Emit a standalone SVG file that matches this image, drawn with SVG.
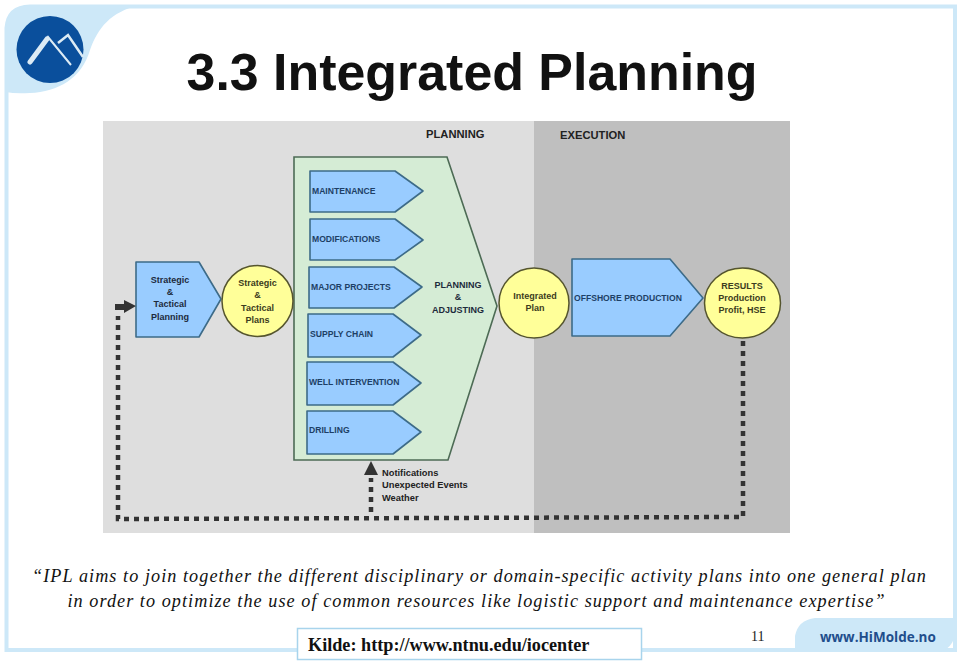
<svg xmlns="http://www.w3.org/2000/svg" width="960" height="665" viewBox="0 0 960 665">
<style>
.ar{fill:#99ccff;stroke:#3d6b88;stroke-width:1.6;stroke-linejoin:round}
.ci{fill:#ffff99;stroke:#55552e;stroke-width:1.5}
.t{font-family:"Liberation Sans",Arial,sans-serif;font-weight:bold;font-size:8.6px;fill:#1d3f66}
.y{font-family:"Liberation Sans",Arial,sans-serif;font-weight:bold;font-size:9px;fill:#3c3c20;text-anchor:middle}
.b{font-family:"Liberation Sans",Arial,sans-serif;font-weight:bold;font-size:9px;fill:#1d2a3c;text-anchor:middle}
.k{font-family:"Liberation Sans",Arial,sans-serif;font-weight:bold;font-size:9.3px;fill:#222}
.h{font-family:"Liberation Sans",Arial,sans-serif;font-weight:bold;font-size:11.2px;fill:#222}
.q{font-family:"Liberation Serif","Times New Roman",serif;font-style:italic;font-size:18.2px;fill:#111;letter-spacing:1.05px;text-anchor:middle}
.dot{fill:none;stroke:#333;stroke-width:4.5;stroke-dasharray:5 5}
</style>
<rect width="960" height="665" fill="#fff"/>
<g id="frame">
<path d="M6.500 60V28Q8 7 30 6.500H955V650H642M297 650H6.500V60" fill="none" stroke="#cde8f8" stroke-width="4"/>
<path d="M6 92V28Q8 6 30 5H140C110 12 98 28 90 50C82 78 58 92 30 93Q15 94 6 92Z" fill="#cde8f8"/>
<path d="M795 652V636Q798 620 815 618H955V636Q950 652 935 652Z" fill="#cde8f8"/>
<text x="820" y="642" font-family="'Open Sans','Liberation Sans',sans-serif" font-weight="bold" font-size="13.500" fill="#1f4e8c">www.HiMolde.no</text>
</g>
<g id="logo">
<circle cx="50" cy="49.500" r="33.500" fill="#0a4f9c"/>
<path d="M30 62L48 37L71 65" fill="none" stroke="#dcebf5" stroke-width="2"/>
<path d="M30 62L47 39" fill="none" stroke="#dcebf5" stroke-width="5" stroke-linecap="round"/>
<path d="M58 43L68 35L83 57" fill="none" stroke="#dcebf5" stroke-width="2.500"/>
</g>
<text id="title" x="472" y="90" text-anchor="middle" font-family="'Liberation Sans',Arial,sans-serif" font-weight="bold" font-size="51.900" fill="#111">3.3 Integrated Planning</text>
<g id="panels">
<rect x="103" y="121" width="431" height="412" fill="#dedede"/>
<rect x="534" y="121" width="256" height="412" fill="#bfbfbf"/>
<text class="h" x="426" y="138">PLANNING</text>
<text class="h" x="560" y="139">EXECUTION</text>
</g>
<g id="adjusting">
<polygon points="294,157 447,157 497,306 448,460 294,460" fill="#d5ecd5" stroke="#4d6b55" stroke-width="1.600"/>
<text class="b" x="458" y="288">PLANNING</text>
<text class="b" x="458" y="300">&amp;</text>
<text class="b" x="458" y="313">ADJUSTING</text>
</g>
<g id="maintenance"><polygon class="ar" points="310,171 395,171 423,191 395,212 310,212"/><text class="t" x="312" y="194">MAINTENANCE</text></g>
<g id="modifications"><polygon class="ar" points="310,219 395,219 423,240 395,260 310,260"/><text class="t" x="312" y="242">MODIFICATIONS</text></g>
<g id="major"><polygon class="ar" points="309,267 394,267 422,287 394,308 309,308"/><text class="t" x="311" y="290">MAJOR PROJECTS</text></g>
<g id="supply"><polygon class="ar" points="308,314 393,314 421,335 393,357 308,357"/><text class="t" x="310" y="337">SUPPLY CHAIN</text></g>
<g id="well"><polygon class="ar" points="307,362 393,362 421,383 393,405 307,405"/><text class="t" x="309" y="385">WELL INTERVENTION</text></g>
<g id="drilling"><polygon class="ar" points="307,411 393,411 421,432 393,454 307,454"/><text class="t" x="309" y="433">DRILLING</text></g>
<g id="strategic-planning"><polygon class="ar" points="136,262 199,262 221,299 199,337 136,337"/>
<text class="b" x="170" y="283">Strategic</text><text class="b" x="170" y="295">&amp;</text><text class="b" x="170" y="307">Tactical</text><text class="b" x="170" y="320">Planning</text></g>
<g id="strategic-plans"><circle class="ci" cx="257.500" cy="301" r="35.500"/>
<text class="y" x="257.500" y="286">Strategic</text><text class="y" x="257.500" y="298">&amp;</text><text class="y" x="257.500" y="311">Tactical</text><text class="y" x="257.500" y="323">Plans</text></g>
<g id="integrated-plan"><circle class="ci" cx="534" cy="303" r="35"/>
<text class="y" x="535" y="299">Integrated</text><text class="y" x="535" y="311">Plan</text></g>
<g id="offshore"><polygon class="ar" points="572,259 670,259 703,298 670,336 572,336"/><text class="t" x="574" y="301">OFFSHORE PRODUCTION</text></g>
<g id="results"><ellipse class="ci" cx="742.500" cy="303" rx="38" ry="35"/>
<text class="y" x="742" y="289">RESULTS</text><text class="y" x="742" y="301">Production</text><text class="y" x="742" y="313">Profit, HSE</text></g>
<g id="connectors">
<path class="dot" d="M743 341V517L118 519V316"/>
<path class="dot" d="M371 512V478"/>
<polygon points="115,304 124,304 124,300 136,306 124,313 124,310 115,310" fill="#333"/>
<polygon points="371,461 378,475 364,475" fill="#333"/>
</g>
<g id="notes">
<text class="k" x="382" y="476">Notifications</text>
<text class="k" x="382" y="488">Unexpected Events</text>
<text class="k" x="382" y="501">Weather</text>
</g>
<g id="quote">
<text class="q" x="479.500" y="582">“IPL aims to join together the different disciplinary or domain-specific activity plans into one general plan</text>
<text class="q" x="476.500" y="607">in order to optimize the use of common resources like logistic support and maintenance expertise”</text>
</g>
<g id="source">
<rect x="297.500" y="628.500" width="344" height="31" fill="#fff" stroke="#a8d4ec" stroke-width="1.500"/>
<text x="308" y="651" font-family="'Liberation Serif','Times New Roman',serif" font-weight="bold" font-size="18.200" fill="#111">Kilde: http://www.ntnu.edu/iocenter</text>
</g>
<text id="page" x="751" y="641" font-family="'Liberation Serif','Times New Roman',serif" font-size="14" fill="#222">11</text>
</svg>
